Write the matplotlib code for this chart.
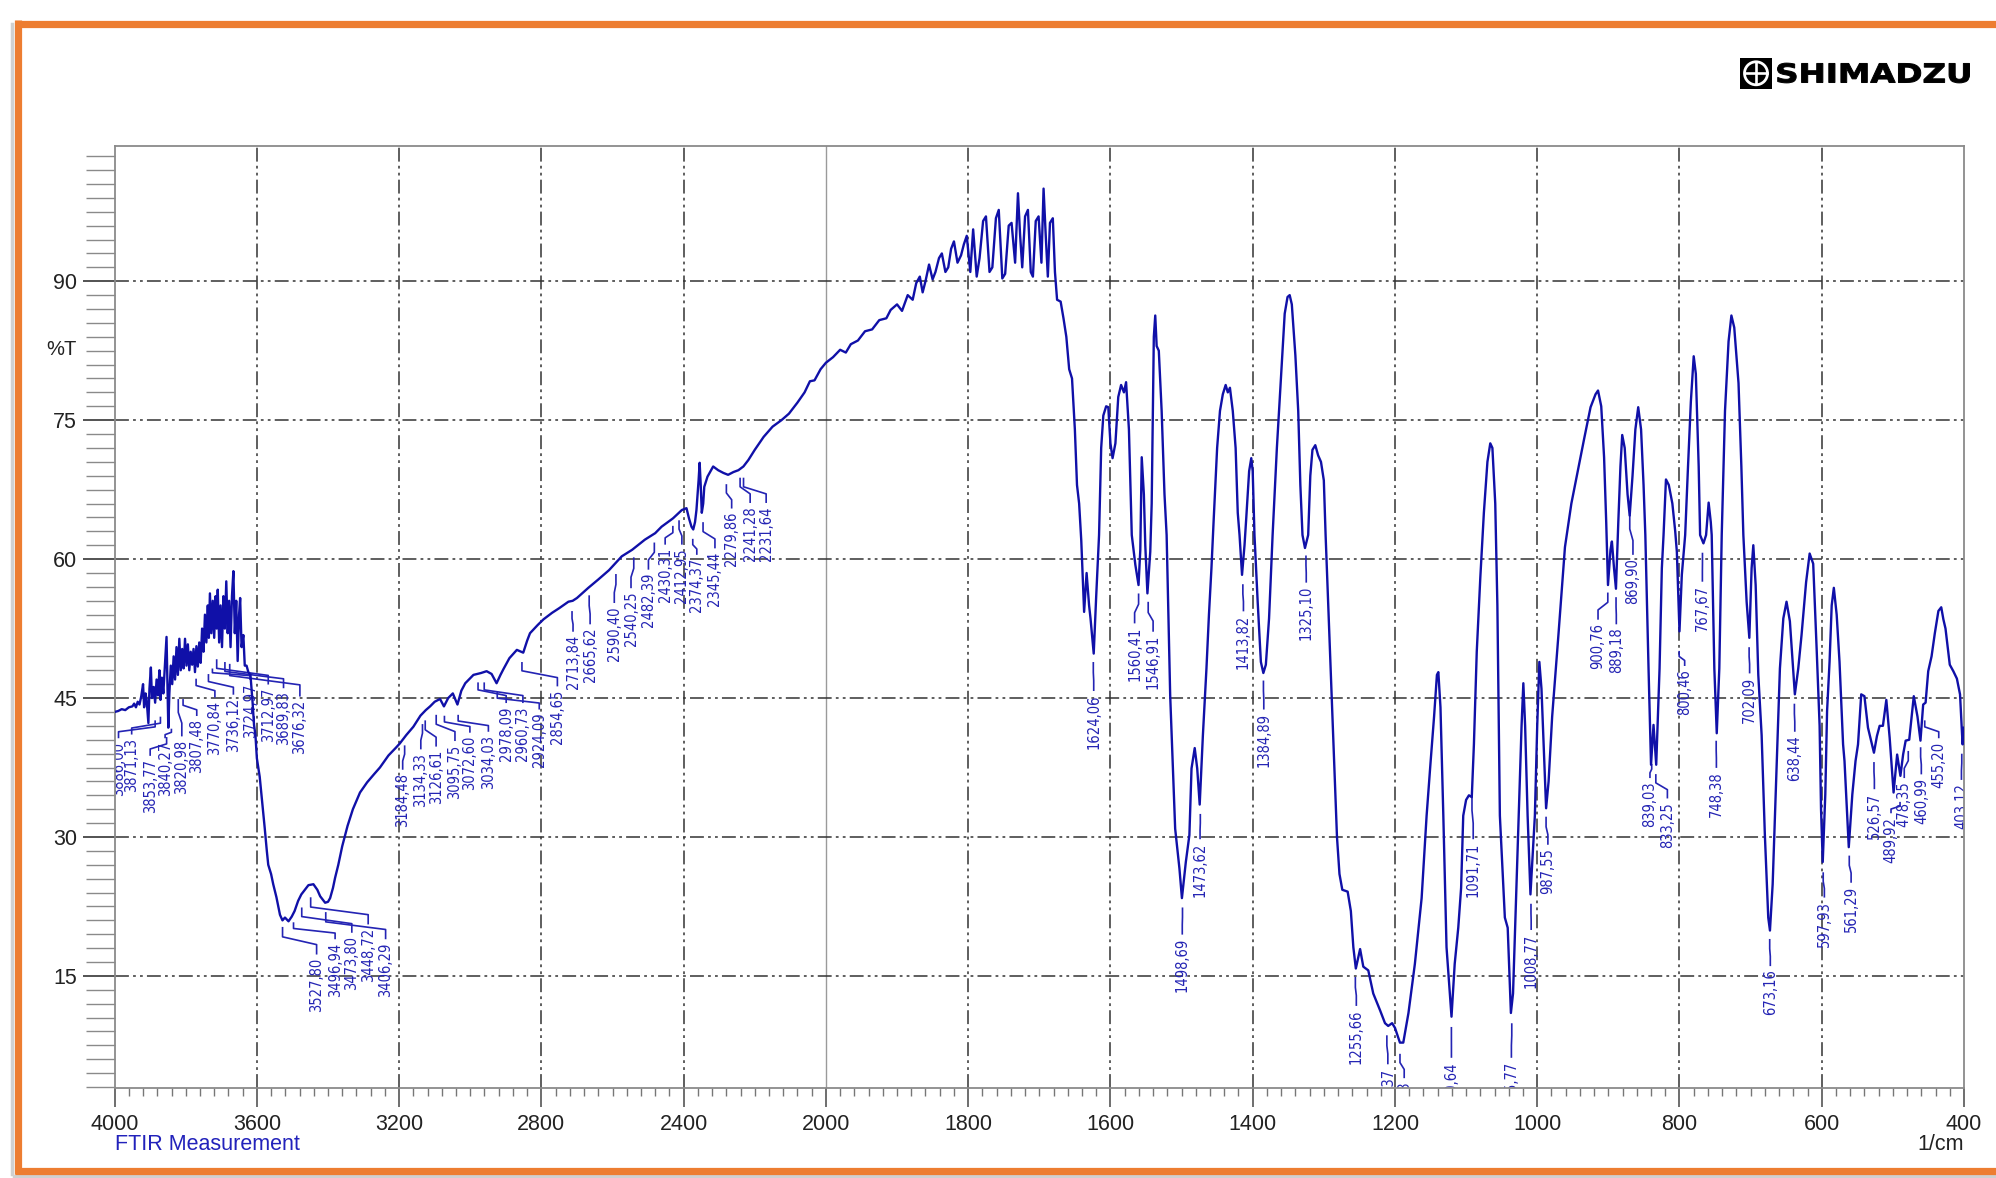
import numpy as np
import matplotlib
matplotlib.use('Agg')
import matplotlib.pyplot as plt
from matplotlib import font_manager as fm
from matplotlib.transforms import Affine2D, IdentityTransform, blended_transform_factory
from matplotlib.patches import Rectangle, Circle, PathPatch
from matplotlib.textpath import TextPath
from matplotlib.font_manager import FontProperties
from matplotlib.lines import Line2D

plt.rcParams['font.family'] = ['Liberation Sans', 'DejaVu Sans']
plt.rcParams['lines.scale_dashes'] = False

# ---------------- data ----------------
wavenumber = [
    4000, 3990, 3980, 3970, 3960, 3950, 3945, 3940, 3935, 3930, 3925, 3920, 3917, 3913, 3910,
    3905, 3902, 3898, 3895, 3890, 3886, 3882, 3878, 3874, 3871, 3867, 3863, 3858, 3854, 3851,
    3849, 3846, 3842, 3838, 3834, 3830, 3826, 3822, 3818, 3814, 3810, 3806, 3802, 3798, 3794,
    3790, 3786, 3782, 3778, 3774, 3770, 3766, 3762, 3758, 3754, 3750, 3746, 3742, 3738, 3735,
    3732, 3728, 3724, 3720, 3716, 3713, 3710, 3706, 3702, 3698, 3694, 3690, 3686, 3682, 3678,
    3674, 3670, 3666, 3662, 3658, 3654, 3650, 3647, 3643, 3638, 3634, 3629, 3624, 3618, 3612,
    3608, 3604, 3600, 3592, 3585, 3578, 3572, 3568, 3560, 3554, 3545, 3535, 3528, 3521, 3511,
    3502, 3494, 3484, 3475, 3465, 3455, 3441, 3430, 3422, 3408, 3400, 3394, 3386, 3380, 3371,
    3360, 3345, 3330, 3310, 3290, 3270, 3254, 3230, 3210, 3198, 3180, 3160, 3140, 3125, 3113,
    3100, 3085, 3074, 3062, 3049, 3036, 3025, 3014, 2991, 2970, 2954, 2940, 2926, 2915, 2907,
    2890, 2869, 2851, 2840, 2832, 2810, 2794, 2770, 2750, 2724, 2712, 2700, 2668, 2640, 2610,
    2574, 2545, 2509, 2480, 2462, 2430, 2405, 2392, 2385, 2378, 2373, 2368, 2364, 2358, 2355,
    2352, 2349, 2345, 2342, 2333, 2317, 2303, 2288, 2275, 2260, 2246, 2232, 2218, 2200, 2175,
    2150, 2125, 2104, 2080, 2060, 2045, 2032, 2015, 2000, 1990, 1980, 1972, 1965, 1955, 1945,
    1935, 1925, 1915, 1909, 1900, 1893, 1885, 1878, 1873, 1868, 1864, 1860, 1855, 1850, 1846,
    1841, 1837, 1832, 1828, 1824, 1820, 1815, 1810, 1806, 1802, 1797, 1793, 1788, 1784, 1779,
    1775, 1770, 1766, 1761, 1757, 1752, 1748, 1743, 1739, 1734, 1730, 1727, 1724, 1720, 1716,
    1712, 1709, 1705, 1701, 1697, 1694, 1691, 1688, 1685, 1681, 1678, 1675, 1670, 1666, 1662,
    1658, 1654, 1650, 1647, 1644, 1641, 1637, 1633.5, 1630, 1628, 1623.5, 1620, 1616, 1613, 1610,
    1606, 1603, 1600, 1597, 1593, 1589, 1585, 1581, 1578, 1574, 1570, 1565, 1560.5, 1558, 1556,
    1553, 1551, 1548, 1544, 1542, 1539, 1537, 1535, 1532, 1528, 1524, 1521, 1516, 1509, 1503,
    1499.5, 1494, 1489, 1486, 1481.5, 1478, 1474.5, 1470, 1465, 1461.5, 1458, 1455, 1450, 1446, 1442,
    1438, 1435, 1432, 1428, 1424, 1421, 1418.5, 1415, 1411.5, 1409, 1405, 1402, 1400, 1397.5, 1393,
    1388.5, 1385, 1381.5, 1377, 1372, 1366, 1360, 1355, 1351, 1348, 1345, 1340, 1336, 1333, 1330,
    1326.5, 1322, 1319, 1316, 1312, 1308, 1304, 1300, 1297.5, 1293, 1288.5, 1281.5, 1278, 1274, 1266.5,
    1262, 1258.5, 1255, 1249, 1244.5, 1237.5, 1230.5, 1221, 1214, 1209.5, 1204, 1200, 1193, 1188.3, 1181,
    1172, 1162.5, 1155.5, 1150, 1145, 1141, 1139, 1136, 1132, 1127.5, 1120.5, 1116, 1111, 1107, 1104,
    1100, 1096, 1092, 1089, 1085, 1080, 1075, 1070, 1066, 1063, 1059, 1056, 1052.5, 1045.5, 1041.5,
    1037, 1034, 1029, 1026, 1022, 1019.5, 1017, 1013.5, 1009.5, 1006.5, 1003.3, 1000, 997, 994, 990,
    987.5, 984, 979, 970, 961, 952, 943, 934, 925, 918, 914.5, 910, 906, 903, 900.5,
    897, 895, 892, 889.3, 886, 883, 880.5, 877, 873, 870, 866, 862, 858, 854, 850.5,
    848, 843.5, 840, 836.5, 832.7, 828, 824.8, 822.4, 819, 815, 810, 806, 803.7, 800, 796.7,
    792, 788, 784, 780, 777, 773, 771, 766.3, 762.6, 759, 756, 754.7, 751, 747.6, 744,
    740.6, 736, 731, 727, 723, 717, 713, 710.2, 705.6, 701.8, 698.6, 696.2, 692.9, 689.2, 684.5,
    680, 675.2, 672.8, 669, 663.5, 658.8, 654, 649.5, 644.8, 637.8, 633, 628.4, 622, 617, 612,
    607, 603, 601, 598.6, 595, 592.5, 589, 586, 583, 579, 575, 570, 568, 562, 557,
    552.5, 549, 544.5, 540, 535, 526.6, 522.4, 518.6, 514, 509.2, 504.5, 499, 494, 489.4, 485.6,
    482, 477, 470.6, 465.4, 461.2, 457.4, 454, 450.3, 445.6, 441, 436, 432, 429, 426, 420,
    415, 410, 405.6, 402, 400]

transmittance = [
    43.5, 43.6, 43.8, 43.7, 44.0, 44.1, 44.4, 44.0, 44.6, 44.3, 45.2, 46.5, 44.0, 45.5, 44.8,
    42.3, 46.0, 48.3, 45.0, 46.2, 44.5, 47.0, 45.3, 48.0, 44.8, 47.2, 45.5, 49.0, 51.6, 46.0,
    41.8, 45.5, 48.5, 46.5, 49.5, 47.0, 50.5, 47.5, 51.4, 48.0, 50.3, 48.2, 51.4, 48.5, 50.8,
    48.0, 50.0, 48.6, 50.3, 47.8, 50.6, 48.4, 51.0, 48.8, 52.5, 50.0, 54.0, 51.0, 55.0, 51.5,
    56.3, 52.0, 55.5, 51.5, 56.0, 52.5, 56.7, 51.0, 55.0, 50.5, 56.0, 52.5, 57.6, 52.0, 55.5,
    50.5, 56.0, 58.7, 52.0, 55.5, 49.0, 54.0, 55.8, 50.5, 51.8, 48.5, 48.5, 47.8, 47.5, 44.5,
    42.1, 41.0, 38.5, 36.5, 33.8, 31.0, 28.5, 27.0, 26.0, 24.9, 23.5, 21.6, 21.0, 21.3, 20.9,
    21.4, 22.0, 23.1, 23.8, 24.3, 24.8, 24.9, 24.3, 23.6, 22.9, 23.0, 23.4, 24.5, 25.6, 27.0,
    29.0, 31.2, 33.0, 34.8, 35.9, 36.8, 37.5, 38.8, 39.6, 40.1, 41.0, 41.9, 43.1, 43.7, 44.1,
    44.6, 44.9, 44.1, 45.0, 45.5, 44.3, 45.8, 46.6, 47.5, 47.7, 47.9, 47.6, 46.6, 47.5, 48.1,
    49.3, 50.2, 49.9, 51.2, 52.0, 52.9, 53.5, 54.2, 54.7, 55.4, 55.5, 55.8, 56.9, 57.8, 58.8,
    60.3, 61.0, 62.1, 62.8, 63.5, 64.4, 65.3, 65.5, 64.4, 63.5, 63.2, 64.0, 65.3, 68.5, 70.4,
    68.0, 65.0, 66.0, 67.8, 68.9, 70.0, 69.6, 69.3, 69.1, 69.4, 69.6, 70.0, 70.7, 71.8, 73.2,
    74.3, 75.0, 75.7, 76.9, 78.0, 79.2, 79.3, 80.5, 81.2, 81.8, 82.6, 82.3, 83.2, 83.6, 84.6,
    84.8, 85.8, 86.0, 86.9, 87.5, 86.8, 88.5, 88.0, 89.8, 90.5, 88.8, 90.0, 91.8, 90.2, 91.0,
    92.5, 93.0, 91.0, 91.5, 93.5, 94.3, 92.0, 92.8, 94.0, 94.9, 91.0, 95.6, 90.5, 92.5, 96.5,
    97.0, 91.0, 91.5, 96.8, 97.7, 90.3, 90.8, 96.0, 96.3, 92.0, 99.5, 95.0, 91.5, 97.0, 97.7,
    91.0, 90.5, 96.5, 97.0, 92.0, 100.0, 95.0, 90.5, 96.3, 96.8, 91.0, 88.0, 87.8, 86.0, 84.0,
    80.5, 79.5, 74.0, 68.0, 66.0, 62.0, 54.3, 58.5, 55.0, 53.6, 49.8, 56.0, 62.6, 72.0, 75.5,
    76.5, 76.4, 72.5, 70.9, 72.5, 77.5, 78.8, 78.0, 79.1, 74.0, 62.6, 59.4, 57.2, 61.0, 71.0,
    67.0, 61.5, 56.3, 60.8, 66.0, 84.0, 86.3, 83.0, 82.5, 76.0, 67.0, 62.6, 45.3, 30.9, 26.6,
    23.4, 27.3, 30.2, 37.4, 39.6, 37.4, 33.5, 41.0, 48.2, 54.0, 59.0, 64.0, 72.0, 76.0, 77.8,
    78.8, 78.0, 78.5, 76.0, 72.0, 65.0, 62.6, 58.3, 61.5, 64.5, 69.5, 70.9, 69.5, 62.6, 55.4,
    48.9, 47.7, 48.6, 53.6, 62.6, 72.0, 80.0, 86.5, 88.3, 88.5, 87.5, 82.0, 76.0, 68.0, 62.6,
    61.2, 62.6, 69.0, 71.8, 72.3, 71.2, 70.5, 68.5, 62.6, 53.5, 44.6, 30.0, 26.0, 24.3, 24.1,
    22.0, 18.1, 15.8, 17.9, 16.0, 15.6, 13.1, 11.3, 9.9, 9.6, 9.9, 9.4, 7.8, 7.8, 11.0,
    16.3, 23.4, 32.3, 38.0, 43.0, 47.5, 47.8, 44.0, 32.3, 18.1, 10.6, 16.3, 20.2, 24.5, 32.3,
    34.0, 34.5, 34.3, 40.0, 50.0, 58.0, 65.0, 70.5, 72.5, 72.0, 66.0, 55.0, 32.3, 21.3, 20.2,
    11.0, 13.1, 25.2, 32.3, 42.0, 46.6, 42.0, 32.3, 23.8, 28.0, 32.3, 42.0, 48.9, 46.0, 38.0,
    33.1, 36.0, 43.0, 52.0, 61.3, 66.0, 69.5, 73.0, 76.4, 77.8, 78.2, 76.5, 71.0, 64.0, 57.2,
    61.0, 61.9, 59.0, 56.8, 64.0, 70.0, 73.4, 72.0, 67.0, 64.7, 69.0, 74.0, 76.4, 74.0, 68.0,
    62.6, 48.2, 37.8, 42.1, 37.8, 48.2, 59.0, 62.6, 68.6, 68.0, 66.0, 63.0, 60.8, 52.2, 58.3,
    62.6, 70.0, 77.0, 81.9, 80.0, 70.0, 62.6, 61.7, 62.6, 66.1, 64.0, 62.6, 48.2, 41.2, 48.2,
    62.6, 76.0, 83.5, 86.3, 85.0, 79.0, 70.0, 62.6, 55.4, 51.5, 59.0, 61.5, 57.2, 47.5, 41.0,
    30.3, 21.3, 19.9, 24.9, 37.5, 48.2, 53.6, 55.4, 53.3, 45.4, 48.2, 51.8, 57.5, 60.6, 59.5,
    50.0, 42.0, 33.0, 27.3, 34.6, 43.6, 48.9, 55.0, 56.9, 54.0, 48.9, 40.0, 38.2, 28.9, 34.6,
    38.2, 40.0, 45.4, 45.2, 41.8, 39.1, 40.9, 42.0, 42.0, 44.8, 40.7, 34.8, 38.9, 36.6, 38.9,
    40.4, 40.5, 45.2, 43.0, 40.4, 44.3, 44.5, 47.9, 49.5, 52.0, 54.4, 54.8, 53.5, 52.5, 48.6,
    47.9, 47.1, 45.4, 40.0, 41.8]

# peak labels: text, peak position (cm-1), label x (cm-1), label top (%T), leader start (%T)
peak_text = [
    "3886,00", "3871,13", "3853,77", "3840,27", "3820,98", "3807,48", "3770,84", "3736,12",
    "3724,97", "3712,97", "3689,83", "3676,32",
    "3527,80", "3496,94", "3473,80", "3448,72", "3406,29",
    "3184,48", "3134,33", "3126,61", "3095,75", "3072,60", "3034,03", "2978,09", "2960,73",
    "2924,09", "2854,65", "2713,84", "2665,62", "2590,40", "2540,25", "2482,39", "2430,31",
    "2412,95", "2374,37", "2345,44", "2279,86", "2241,28", "2231,64",
    "1624,06", "1560,41", "1546,91", "1498,69", "1473,62", "1413,82", "1384,89", "1325,10",
    "1255,66", "1,37", "93", "1120,64", "1091,71", "1035,77", "1008,77", "987,55",
    "900,76", "889,18", "869,90", "839,03", "833,25", "800,46", "767,67", "748,38",
    "702,09", "673,16", "638,44", "597,93", "561,29", "526,57", "489,92", "478,35",
    "460,99", "455,20", "403,12"]
peak_pos = [
    3886.00, 3871.13, 3853.77, 3840.27, 3820.98, 3807.48, 3770.84, 3736.12,
    3724.97, 3712.97, 3689.83, 3676.32,
    3527.80, 3496.94, 3473.80, 3448.72, 3406.29,
    3184.48, 3134.33, 3126.61, 3095.75, 3072.60, 3034.03, 2978.09, 2960.73,
    2924.09, 2854.65, 2713.84, 2665.62, 2590.40, 2540.25, 2482.39, 2430.31,
    2412.95, 2374.37, 2345.44, 2279.86, 2241.28, 2231.64,
    1624.06, 1560.41, 1546.91, 1498.69, 1473.62, 1413.82, 1384.89, 1325.10,
    1255.66, 1211.37, 1192.93, 1120.64, 1091.71, 1035.77, 1008.77, 987.55,
    900.76, 889.18, 869.90, 839.03, 833.25, 800.46, 767.67, 748.38,
    702.09, 673.16, 638.44, 597.93, 561.29, 526.57, 489.92, 478.35,
    460.99, 455.20, 403.12]
label_x = [
    3989, 3952, 3900, 3858, 3811, 3769, 3718, 3666, 3619, 3568, 3525, 3479,
    3432, 3380, 3333, 3287, 3238,
    3190, 3139, 3096, 3043, 3001, 2949, 2899, 2852, 2806, 2755, 2711, 2663, 2595, 2548,
    2499, 2452, 2405, 2363, 2312, 2265, 2213, 2168,
    1623.5, 1566, 1540, 1499, 1474, 1413, 1384.4, 1324.7,
    1254.3, 1210, 1187, 1120.6, 1090, 1036.3, 1008.5, 985,
    914.5, 888.8, 865.4, 841.5, 817, 792.7, 767.8, 748.1,
    701.4, 672.3, 637.9, 596.3, 558.7, 526, 502.6, 484, 460, 435.5, 403.6]
label_top = [
    40.3, 40.7, 38.4, 40.3, 40.5, 42.7, 44.7, 45.0, 46.6, 46.1, 45.7, 44.8,
    16.95, 18.6, 19.3, 20.2, 18.6,
    36.9, 39.1, 39.4, 40.0, 40.9, 41.0, 44.1, 44.1, 43.4, 45.9, 51.8, 52.6, 54.9, 56.5,
    58.5, 61.2, 61.2, 60.1, 60.8, 65.1, 65.7, 65.7,
    45.4, 52.7, 51.8, 19.1, 29.4, 54.0, 43.4, 57.1,
    11.4, 5.1, 3.6, 5.8, 29.4, 5.8, 19.6, 28.8,
    53.1, 52.6, 60.1, 36.0, 33.8, 48.1, 57.2, 37.1,
    47.3, 15.7, 41.0, 23.1, 24.7, 34.8, 32.2, 36.0, 36.4, 40.3, 35.8]
leader_start = [
    42.5, 42.9, 40.7, 41.6, 44.8, 44.8, 47.0, 47.5, 48.1, 49.1, 48.8, 48.6,
    20.2, 20.7, 22.3, 23.4, 21.8,
    39.8, 42.1, 42.5, 43.1, 43.0, 43.1, 46.6, 46.6, 45.6, 48.8, 54.3, 56.0, 58.3, 60.1,
    61.7, 63.5, 64.1, 62.1, 63.9, 68.0, 68.7, 68.7,
    48.8, 56.2, 55.3, 22.3, 32.4, 57.2, 46.8, 60.3,
    14.8, 8.5, 6.5, 9.4, 34.5, 9.8, 22.7, 32.1,
    56.3, 55.8, 64.7, 37.8, 36.7, 50.0, 60.6, 40.3,
    50.4, 18.9, 44.3, 26.1, 27.9, 38.0, 33.7, 39.2, 39.6, 42.5, 38.9]

x_major = [4000, 3600, 3200, 2800, 2400, 2000, 1800, 1600, 1400, 1200, 1000, 800, 600, 400]
y_major = [15, 30, 45, 60, 75, 90]

# ---------------- figure ----------------
W, H = 1996, 1178
fig = plt.figure(figsize=(W / 100, H / 100), dpi=100)
fig.patch.set_facecolor('white')
ax = fig.add_axes([114.6 / W, 1 - 1088 / H, (1964 - 114.6) / W, (1088 - 146) / H])


def fwd(x):
    x = np.asarray(x, dtype=float)
    return np.where(x >= 2000, (x - 4000) / 400.0, (x - 2000) / 200.0 - 5.0)


def inv(y):
    y = np.asarray(y, dtype=float)
    return np.where(y >= -5, 4000 + 400.0 * y, 2000 + 200.0 * (y + 5.0))


ax.set_xscale('function', functions=(fwd, inv))
ax.set_xlim(4000, 400)
ax.set_ylim(2.9, 104.6)

x_minor = [v for v in list(range(3960, 2000, -40)) + list(range(1980, 400, -20)) if v not in x_major]
ax.set_xticks(x_major)
ax.set_xticks(x_minor, minor=True)
ax.set_xticklabels([str(v) for v in x_major])
ax.set_yticks(y_major)
ax.set_yticks([v for v in np.arange(3.0, 104.6, 1.5) if round(v, 1) not in y_major], minor=True)
ax.set_yticklabels([str(v) for v in y_major])

ax.tick_params(axis='x', which='major', direction='out', length=14, width=1.2, color='#555555',
               pad=5, labelsize=15.5, labelcolor='#222222')
ax.tick_params(axis='x', which='minor', direction='out', length=5.5, width=1.0, color='#777777')
ax.tick_params(axis='y', which='major', direction='out', length=23, width=1.3, color='#444444',
               pad=4, labelsize=15.5, labelcolor='#222222')
ax.tick_params(axis='y', which='minor', direction='out', length=21, width=1.0, color='#8a8a8a')
for s in ax.spines.values():
    s.set_color('#8a8a8a')
    s.set_linewidth(1.3)

dash = (0, (10, 3, 2, 3, 2, 3))
for v in x_major[1:-1]:
    if v == 2000:
        ax.axvline(v, color='#9a9a9a', lw=1.0, zorder=1)
    else:
        ax.axvline(v, color='#333333', lw=1.1, ls=dash, zorder=1)
for v in y_major:
    ax.axhline(v, color='#333333', lw=1.1, ls=dash, zorder=1)

ax.plot(wavenumber, transmittance, color='#1010a8', lw=1.7, zorder=3, solid_joinstyle='round')

# label font
names = {f.name for f in fm.fontManager.ttflist}
if 'Liberation Sans Narrow' in names:
    lab_kw = dict(family='Liberation Sans Narrow', fontsize=12.5)
else:
    lab_kw = dict(family='DejaVu Sans', fontstretch='condensed', fontsize=10.5)

lab_color = '#2424b4'
for s, pk, tx, top, st in zip(peak_text, peak_pos, label_x, label_top, leader_start):
    end = top + 0.45
    d = st - end
    b1 = st - 0.35 * d
    b2 = end + 0.35 * d
    ax.plot([pk, pk, tx, tx], [st, b1, b2, end], color=lab_color, lw=1.2, zorder=2)
    ax.text(tx, top, s, rotation=90, ha='center', va='top', color=lab_color,
            clip_on=True, zorder=2, **lab_kw)

# axis texts
ax.text(-0.029, 82.6, '%T', transform=blended_transform_factory(ax.transAxes, ax.transData),
        ha='center', va='center', fontsize=14.5, color='#222222')
fig.text(114.6 / W, 1 - 1144 / H, 'FTIR Measurement', ha='left', va='center',
         fontsize=15.5, color='#2222bb')
fig.text(1964 / W, 1 - 1144 / H, '1/cm', ha='right', va='center', fontsize=15.5, color='#222222')

# orange frame
idt = IdentityTransform()
def line_px(xs, ys, **kw):
    fig.add_artist(Line2D(xs, [H - y for y in ys], transform=idt, **kw))

line_px([12, 12], [24, 1174], color='#d0d0d0', lw=2.5)
line_px([14, W], [1175.5, 1175.5], color='#d0d0d0', lw=2.5)
line_px([14.5, W], [23.5, 23.5], color='#ED7D31', lw=5.2, solid_capstyle='butt')
line_px([14.5, W], [1170.5, 1170.5], color='#ED7D31', lw=5.2, solid_capstyle='butt')
line_px([18, 18], [20, 1174], color='#ED7D31', lw=5.2, solid_capstyle='butt')

# SHIMADZU logo
fig.add_artist(Rectangle((1740, H - 88.5), 32, 30.5, transform=idt, facecolor='black', edgecolor='none'))
cx, cy = 1756, H - 73.3
fig.add_artist(Circle((cx, cy), 11.5, transform=idt, facecolor='black', edgecolor='white', lw=2.0))
fig.add_artist(Line2D([cx - 11, cx + 11], [cy, cy], transform=idt, color='white', lw=1.9))
fig.add_artist(Line2D([cx, cx], [cy - 11, cy + 11], transform=idt, color='white', lw=1.9))
tp = TextPath((0, 0), 'SHIMADZU', size=100, prop=FontProperties(family='DejaVu Sans', weight='bold'))
bb = tp.get_extents()
tr = Affine2D().translate(-bb.x0, -bb.y0).scale(192.0 / bb.width, 19.8 / bb.height).translate(1777.5, H - 82.9)
fig.add_artist(PathPatch(tp, transform=tr, facecolor='black', edgecolor='black', lw=0.7))

fig.savefig('out.png', dpi=100)
